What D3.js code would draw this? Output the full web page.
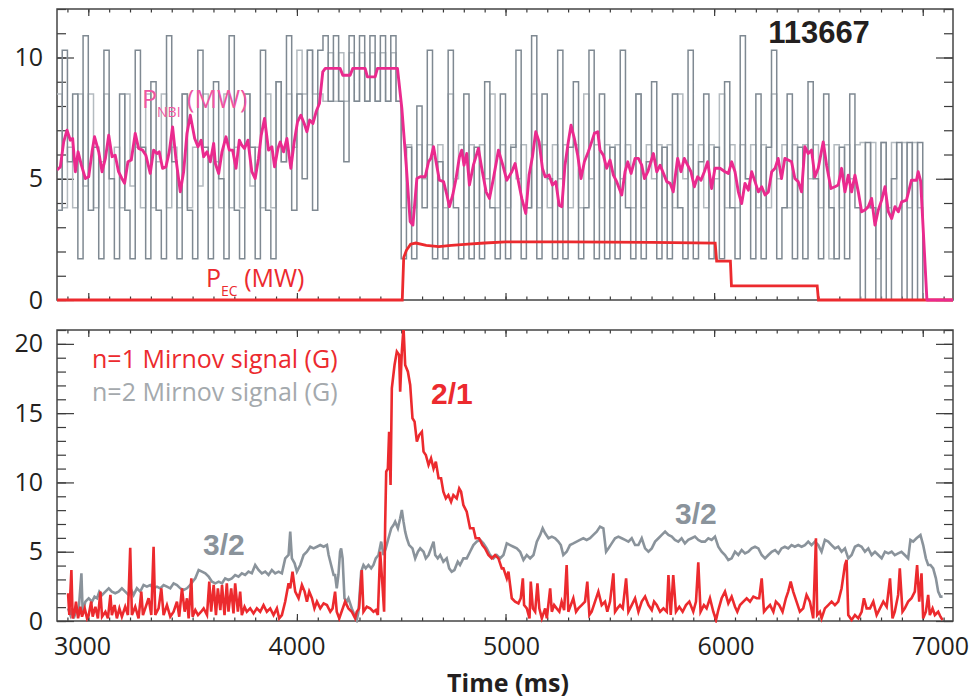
<!DOCTYPE html>
<meta charset="utf-8">
<script src="https://d3js.org/d3.v7.min.js"></script>
<style>
  body { margin: 0; background: #fff; }
  svg text { font-family: 'Open Sans', sans-serif; }
</style>
<body>
<div id="my_dataviz"></div>
<script>

// ---- data ----

// NBI beam traces, step samples every 25 ms from 2850 ms
var beamStart = 2850, beamStep = 25;
var beamDark = [
  3.7, 10.3, 5.7, 8.5, 1.7, 10.9, 3.7, 6.3, 1.7, 10.3,
  5.0, 1.7, 8.5, 3.7, 1.7, 10.3, 6.3, 1.7, 9.0, 3.7,
  1.7, 10.9, 5.7, 1.7, 8.5, 3.7, 1.7, 10.3, 6.3, 1.7,
  9.0, 5.0, 1.7, 10.9, 3.7, 1.7, 8.5, 6.3, 1.7, 10.3,
  3.7, 1.7, 9.0, 5.7, 10.9, 3.7, 8.5, 5.0, 10.3, 3.7,
  10.3, 10.9, 8.2, 10.9, 8.2, 5.7, 10.9, 8.2, 10.9, 8.2, 10.9, 8.2, 10.9, 8.2, 10.9, 8.2,
  1.7, 6.3, 1.7, 8.0, 3.8, 10.3, 1.7, 5.7, 1.7, 10.3,
  3.8, 1.7, 8.5, 1.7, 6.3, 1.7, 9.0, 3.8, 1.7, 8.5,
  1.7, 6.3, 10.3, 1.7, 3.8, 10.9, 1.7, 8.5, 5.0, 1.7,
  10.3, 1.7, 6.3, 9.0, 1.7, 3.8, 10.3, 1.7, 8.5, 1.7,
  6.3, 1.7, 10.3, 3.8, 1.7, 8.5, 1.7, 5.7, 9.0, 1.7,
  6.3, 1.7, 8.5, 3.8, 1.7, 10.3, 1.7, 5.7, 8.5, 1.7,
  6.3, 1.7, 9.0, 3.8, 1.7, 10.9, 5.0, 1.7, 8.5, 1.7,
  6.3, 10.3, 1.7, 3.8, 8.5, 1.7, 6.3, 1.7, 9.0, 5.0,
  1.7, 8.5, 3.8, 1.7, 6.3, 1.7, 8.5, 3.8,
  0, 6.5, 3.8, 0, 6.5, 0, 5.0, 6.5, 0, 6.5, 0, 6.5,
  0, 0
];
var beamLight = [
  8.5, 3.8, 6.3, 3.8, 8.5, 4.7, 8.5, 3.8, 5.7, 8.5,
  3.8, 6.3, 3.8, 8.5, 4.7, 6.3, 3.8, 8.5, 3.8, 5.7,
  8.5, 3.8, 6.3, 3.8, 8.5, 3.8, 6.3, 4.7, 8.5, 3.8,
  5.7, 3.8, 8.5, 3.8, 6.3, 3.8, 8.5, 4.7, 6.3, 3.8,
  8.5, 3.8, 9.0, 5.7, 8.5, 6.3, 10.3, 8.5, 10.3, 8.5,
  8.5, 8.2, 10.2, 8.2, 10.2, 8.2, 10.2, 8.2, 10.2, 8.2, 10.2, 8.2, 10.2, 8.2, 10.2, 8.2,
  3.8, 6.4, 3.8, 6.4, 5.0, 6.4, 3.8, 6.4, 3.8, 8.5,
  5.0, 6.4, 3.8, 6.4, 3.8, 6.4, 5.0, 8.5, 3.8, 6.4,
  3.8, 6.4, 5.0, 6.4, 3.8, 8.5, 3.8, 6.4, 3.8, 6.4,
  5.0, 6.4, 3.8, 6.4, 3.8, 8.5, 5.0, 6.4, 3.8, 6.4,
  3.8, 6.4, 5.0, 6.4, 3.8, 8.5, 3.8, 6.4, 5.0, 6.4,
  3.8, 6.4, 3.8, 8.5, 5.0, 6.4, 3.8, 6.4, 3.8, 6.4,
  5.0, 8.5, 3.8, 6.4, 3.8, 6.4, 5.0, 6.4, 3.8, 6.4,
  3.8, 8.5, 5.0, 6.4, 3.8, 6.4, 3.8, 6.4, 5.0, 6.4,
  3.8, 6.4, 1.7, 6.4, 3.8, 6.4, 5.0, 6.4,
  6.5, 3.8, 6.5, 1.7, 6.5, 3.8, 6.5, 3.8, 6.5, 3.8, 6.5, 3.8,
  0, 0
];

// total NBI power (MW), [time ms, value]
var pNbi = [
  [2850,5.36],[2866,5.49],[2882,6.52],[2898,7.0],[2914,6.59],[2925,6.66],[2938,5.29],[2951,6.11],[2967,5.56],[2986,5.01],
  [3002,5.08],[3018,6.11],[3030,6.73],[3050,6.11],[3066,5.29],[3082,5.84],[3098,6.8],[3114,5.91],[3129,5.97],[3145,5.29],
  [3161,5.01],[3174,4.81],[3190,5.70],[3206,5.77],[3225,6.87],[3241,6.25],[3260,6.18],[3276,5.97],[3297,5.22],[3313,6.18],
  [3329,6.04],[3340,6.11],[3356,5.43],[3372,5.49],[3388,6.11],[3404,7.14],[3420,5.84],[3441,4.46],[3457,5.29],[3473,6.87],
  [3489,7.62],[3510,6.66],[3526,6.32],[3541,6.59],[3553,5.91],[3569,6.11],[3585,5.70],[3601,6.46],[3609,5.63],[3625,5.22],
  [3641,6.11],[3660,6.73],[3676,6.18],[3692,6.18],[3708,5.43],[3724,6.59],[3736,6.38],[3749,6.25],[3765,6.59],[3784,5.29],
  [3800,5.01],[3816,5.84],[3829,6.80],[3845,7.49],[3864,6.18],[3880,6.32],[3893,5.49],[3909,6.25],[3920,6.52],[3936,6.11],
  [3952,6.66],[3971,5.43],[3987,6.52],[4003,7.35],[4019,7.62],[4035,7.28],[4048,6.94],[4061,7.42],[4077,7.28],[4092,7.76],
  [4108,8.10],[4124,9.41],[4136,9.55],[4207,9.55],[4220,9.27],[4255,9.27],[4268,9.55],[4327,9.55],[4338,9.2],[4375,9.2],
  [4386,9.55],[4482,9.55],[4503,7.9],[4524,5.56],[4543,3.23],[4556,3.09],[4575,5.01],[4591,5.08],[4615,5.08],[4631,5.70],
  [4642,5.84],[4655,6.32],[4667,5.70],[4683,4.94],[4703,4.88],[4719,4.33],[4731,3.85],[4747,4.33],[4763,5.01],[4779,5.91],
  [4790,6.18],[4801,5.56],[4814,6.04],[4827,4.74],[4846,5.56],[4870,6.25],[4886,5.43],[4907,4.46],[4923,4.19],[4942,5.01],
  [4966,6.18],[4987,5.56],[5006,4.94],[5030,5.29],[5046,5.63],[5062,4.88],[5078,4.19],[5097,3.57],[5113,5.15],[5129,5.91],
  [5145,6.94],[5161,6.52],[5177,5.43],[5190,5.08],[5209,5.15],[5225,4.74],[5241,4.88],[5257,3.91],[5270,3.85],[5285,5.56],
  [5301,6.52],[5314,7.21],[5330,6.66],[5346,5.97],[5362,5.01],[5378,5.70],[5397,6.11],[5413,6.52],[5426,6.87],[5442,6.94],
  [5453,6.18],[5469,5.97],[5485,5.43],[5501,5.77],[5517,5.15],[5533,4.88],[5557,4.33],[5573,5.29],[5586,5.70],[5602,5.22],
  [5621,5.84],[5637,5.84],[5653,5.56],[5666,5.01],[5682,5.29],[5709,6.04],[5725,5.29],[5741,5.56],[5757,5.22],[5773,4.88],
  [5789,4.81],[5804,4.46],[5825,5.84],[5841,5.29],[5857,5.84],[5873,5.56],[5889,5.29],[5905,4.67],[5921,5.08],[5937,4.94],
  [5953,5.29],[5969,5.70],[5988,4.60],[6004,5.43],[6028,5.43],[6052,5.29],[6068,5.22],[6084,5.70],[6100,5.29],[6116,4.46],
  [6132,3.98],[6148,4.81],[6164,4.53],[6180,5.29],[6196,4.88],[6212,4.46],[6228,4.67],[6244,4.33],[6260,4.46],[6276,5.29],
  [6292,5.43],[6307,5.84],[6323,5.01],[6339,5.84],[6355,5.77],[6371,5.70],[6387,5.01],[6403,4.88],[6419,4.46],[6435,6.32],
  [6451,6.04],[6467,6.18],[6483,5.08],[6499,5.43],[6523,6.52],[6539,5.56],[6560,4.60],[6579,4.67],[6595,4.74],[6611,5.43],
  [6627,4.46],[6643,5.15],[6659,4.46],[6675,5.15],[6691,4.46],[6707,3.64],[6723,3.71],[6739,3.85],[6755,4.19],[6771,3.09],
  [6787,3.71],[6803,4.12],[6819,4.67],[6835,3.64],[6851,3.36],[6867,3.85],[6883,3.64],[6899,4.05],[6922,4.12],[6946,4.94],
  [6970,4.94],[6978,5.29],[6990,4.9],[7020,0],[7145,0]
];

// ECH power (MW)
var pEc = [
  [2850,0],[4505,0],[4512,1.75],[4525,2.05],[4545,2.3],[4570,2.35],[4620,2.25],[4680,2.2],[4740,2.25],[4820,2.3],
  [4900,2.35],[5000,2.4],[5300,2.4],[5700,2.38],[6005,2.35],[6012,1.6],[6078,1.6],[6083,0.58],[6494,0.58],[6500,0],[7145,0]
];

// n=1 Mirnov amplitude (G)
var mirnovN1 = [
  [2903,2.0],[2909,0.43],[2919,3.68],[2925,0.19],[2935,0.67],[2941,1.4],[2951,0.19],[2962,1.03],[2970,0.31],[2983,0.91],
  [2994,0.19],[3002,0.43],[3014,1.4],[3021,0.31],[3034,1.03],[3046,0.19],[3058,2.12],[3066,0.31],[3082,0.67],[3094,0.19],
  [3106,1.88],[3113,0.43],[3126,1.15],[3137,0.19],[3149,0.91],[3161,0.31],[3177,1.03],[3190,0.43],[3201,5.29],[3209,0.43],
  [3225,1.03],[3241,0.19],[3254,2.12],[3262,0.43],[3273,0.91],[3289,1.64],[3302,0.43],[3313,5.36],[3321,0.43],[3337,0.91],
  [3350,2.36],[3361,0.43],[3377,1.15],[3393,0.31],[3409,0.67],[3425,1.4],[3436,0.31],[3449,2.36],[3462,0.67],[3473,1.64],
  [3481,0.19],[3494,3.08],[3500,0.31],[3513,0.79],[3526,0.43],[3541,0.67],[3553,0.91],[3569,0.43],[3580,2.84],[3589,0.67],
  [3601,2.6],[3612,0.43],[3621,2.36],[3633,0.79],[3641,2.6],[3653,0.43],[3664,2.72],[3672,0.67],[3685,2.36],[3696,0.55],
  [3704,2.72],[3717,0.67],[3728,2.12],[3736,0.43],[3749,1.03],[3760,0.67],[3776,0.91],[3792,0.55],[3808,0.91],[3824,0.67],
  [3840,1.15],[3856,0.67],[3872,0.91],[3888,0.43],[3904,0.91],[3915,0.19],[3928,0.43],[3944,1.4],[3960,2.72],[3968,2.36],
  [3979,3.56],[3992,2.12],[4008,1.64],[4024,2.6],[4037,2.12],[4048,1.4],[4059,2.12],[4072,1.64],[4084,0.91],[4096,1.4],
  [4112,0.91],[4128,1.27],[4144,1.15],[4160,0.67],[4171,0.91],[4183,2.12],[4191,0.67],[4203,0.19],[4231,1.4],[4247,0.91],
  [4263,0.67],[4279,0.19],[4287,0.67],[4298,0.91],[4311,3.68],[4319,0.67],[4335,1.03],[4351,0.91],[4367,0.67],[4378,0.79],
  [4388,0.43],[4399,5.0],[4410,2.6],[4418,0.67],[4423,6.93],[4428,10.78],[4436,11.0],[4442,13.66],[4449,9.81],[4455,16.79],
  [4468,18.47],[4479,19.44],[4490,19.2],[4495,16.55],[4503,19.44],[4511,21.2],[4519,18.47],[4532,17.99],[4543,17.03],[4554,14.63],
  [4564,14.39],[4575,12.94],[4586,13.42],[4599,13.66],[4607,12.22],[4618,11.98],[4631,11.26],[4643,11.74],[4655,11.0],[4666,11.5],
  [4679,10.3],[4691,10.3],[4702,9.33],[4714,8.85],[4726,9.09],[4739,8.61],[4750,9.09],[4766,8.85],[4778,9.57],[4787,9.33],
  [4798,8.37],[4814,7.89],[4830,6.69],[4846,6.69],[4857,5.97],[4873,5.97],[4889,5.48],[4902,5.24],[4918,4.76],[4934,4.52],
  [4950,4.76],[4966,4.52],[4982,3.8],[4990,3.8],[5006,3.08],[5014,3.56],[5022,2.6],[5030,1.64],[5046,1.4],[5062,1.27],
  [5073,1.64],[5083,3.08],[5089,1.15],[5102,0.91],[5115,0.19],[5121,2.84],[5131,0.91],[5142,0.67],[5153,2.72],[5162,0.91],
  [5174,0.19],[5190,0.91],[5198,0.19],[5214,2.36],[5222,0.67],[5233,1.15],[5245,0.91],[5258,0.67],[5269,1.4],[5281,0.79],
  [5293,4.04],[5301,0.67],[5313,1.15],[5325,1.64],[5338,0.67],[5349,0.91],[5365,1.15],[5381,1.4],[5392,2.84],[5402,0.43],
  [5413,0.67],[5429,1.4],[5445,2.12],[5461,1.15],[5477,1.4],[5488,0.67],[5501,1.4],[5517,3.44],[5525,0.67],[5536,0.91],
  [5549,1.15],[5562,0.91],[5578,3.08],[5589,0.67],[5605,1.15],[5621,1.64],[5637,0.67],[5653,1.4],[5669,1.76],[5685,1.15],
  [5701,0.79],[5712,1.4],[5725,1.15],[5741,0.67],[5757,0.91],[5773,0.67],[5781,3.32],[5792,0.43],[5804,3.32],[5817,0.67],
  [5833,1.03],[5849,0.67],[5865,1.15],[5881,1.4],[5900,0.67],[5913,1.4],[5924,4.23],[5935,0.67],[5951,1.15],[5964,0.91],
  [5980,1.64],[5996,0.67],[6009,0.07],[6020,0.79],[6036,1.64],[6052,2.12],[6068,1.27],[6084,1.76],[6100,1.03],[6111,0.67],
  [6124,1.15],[6140,1.4],[6156,1.64],[6172,1.4],[6188,1.76],[6204,1.64],[6216,1.64],[6228,3.08],[6239,0.67],[6252,0.91],
  [6268,1.15],[6284,0.67],[6296,1.4],[6312,1.15],[6328,0.67],[6344,1.64],[6355,2.12],[6367,2.84],[6379,2.12],[6395,1.4],
  [6411,0.67],[6427,0.91],[6443,1.88],[6459,1.4],[6475,0.19],[6488,5.97],[6494,0.43],[6507,0.67],[6515,0.19],[6531,0.91],
  [6547,1.15],[6563,1.4],[6579,1.15],[6595,1.4],[6611,2.36],[6627,4.04],[6635,4.4],[6643,0.43],[6659,0.07],[6675,0.43],
  [6691,0.19],[6707,0.67],[6718,1.64],[6731,0.91],[6747,0.91],[6763,1.4],[6779,0.43],[6795,0.91],[6811,1.4],[6827,1.03],
  [6843,3.08],[6855,0.19],[6866,0.67],[6882,1.88],[6890,3.8],[6903,0.67],[6914,0.91],[6930,1.4],[6946,1.64],[6962,2.12],
  [6973,4.04],[6983,1.4],[6994,3.44],[7002,0.19],[7015,0.67],[7026,1.88],[7034,0.43],[7047,0.91],[7058,0.43],[7074,0.67],
  [7085,0.31],[7095,0.07]
];

// n=2 Mirnov amplitude (G)
var mirnovN2 = [
  [2903,0.91],[2914,0.43],[2922,0.91],[2930,0.19],[2941,0.67],[2954,0.79],[2967,3.44],[2973,0.67],[2986,1.4],[3002,1.64],
  [3018,1.4],[3030,1.76],[3042,1.64],[3053,2.12],[3066,1.88],[3082,2.12],[3098,2.36],[3113,2.12],[3129,2.0],[3145,2.12],
  [3161,2.36],[3177,2.12],[3193,1.88],[3206,2.24],[3217,1.88],[3233,2.36],[3249,2.12],[3265,2.6],[3281,2.48],[3297,2.6],
  [3313,2.36],[3329,2.48],[3345,2.36],[3361,2.6],[3377,2.48],[3393,2.36],[3409,2.72],[3425,2.6],[3441,2.36],[3457,2.24],
  [3473,2.36],[3489,2.6],[3500,2.84],[3513,3.08],[3529,3.68],[3545,3.56],[3561,3.44],[3577,3.2],[3593,2.84],[3609,2.72],
  [3625,2.84],[3641,2.72],[3656,3.08],[3672,2.96],[3688,3.08],[3704,3.32],[3720,3.2],[3736,3.44],[3752,3.32],[3768,3.56],
  [3784,3.44],[3800,4.04],[3816,3.68],[3832,3.44],[3848,3.56],[3864,3.32],[3880,3.68],[3896,3.44],[3912,3.56],[3928,3.44],
  [3944,4.52],[3960,4.76],[3968,6.45],[3976,4.52],[3989,4.16],[4000,3.56],[4016,4.04],[4032,4.76],[4048,5.0],[4064,5.36],
  [4080,5.24],[4096,5.36],[4112,5.48],[4128,5.36],[4144,5.48],[4152,4.76],[4164,4.04],[4176,3.32],[4183,3.32],[4191,2.36],
  [4199,3.32],[4207,5.0],[4212,5.24],[4219,4.52],[4228,1.64],[4239,1.4],[4247,1.64],[4263,0.91],[4276,0.43],[4287,0.07],
  [4295,0.67],[4308,3.56],[4319,4.04],[4330,3.8],[4343,4.04],[4356,3.8],[4367,4.04],[4378,4.52],[4391,4.76],[4404,5.73],
  [4415,4.76],[4426,5.24],[4439,5.97],[4452,6.69],[4463,6.93],[4471,7.17],[4484,6.69],[4495,7.41],[4503,8.01],[4511,7.17],
  [4519,6.45],[4527,5.97],[4538,5.48],[4554,5.24],[4567,4.52],[4580,5.0],[4591,5.24],[4607,5.0],[4618,4.52],[4631,4.76],
  [4643,5.24],[4655,5.73],[4663,4.76],[4675,4.52],[4687,4.76],[4702,4.28],[4718,4.52],[4730,3.8],[4742,3.56],[4755,3.68],
  [4771,4.28],[4782,4.04],[4798,4.52],[4814,4.52],[4830,5.0],[4846,5.48],[4862,5.73],[4878,5.85],[4894,5.6],[4910,5.24],
  [4926,4.76],[4942,4.52],[4958,4.76],[4974,4.52],[4990,4.76],[5006,5.6],[5022,5.48],[5038,5.36],[5054,5.24],[5070,5.0],
  [5086,4.4],[5102,4.76],[5118,4.52],[5134,4.76],[5150,5.73],[5166,6.21],[5178,6.69],[5190,6.33],[5206,5.97],[5222,6.09],
  [5238,5.97],[5253,5.73],[5265,5.48],[5277,4.76],[5293,5.0],[5309,5.48],[5325,5.6],[5341,5.73],[5357,5.85],[5373,5.97],
  [5389,5.85],[5405,5.97],[5421,6.21],[5437,6.45],[5453,6.81],[5469,6.69],[5482,5.0],[5493,5.24],[5509,5.6],[5525,5.97],
  [5541,6.09],[5557,5.97],[5573,5.85],[5589,5.73],[5605,5.97],[5621,5.48],[5637,5.48],[5653,5.97],[5669,5.24],[5685,5.0],
  [5701,5.24],[5717,5.73],[5733,5.97],[5749,6.21],[5765,6.45],[5781,6.21],[5797,6.09],[5812,5.85],[5828,5.73],[5844,5.97],
  [5860,5.6],[5876,5.85],[5892,5.97],[5908,6.09],[5924,5.85],[5940,5.73],[5956,5.73],[5972,5.97],[5988,5.85],[6004,6.09],
  [6020,5.36],[6036,5.0],[6052,4.76],[6068,4.4],[6084,4.52],[6100,5.0],[6116,4.76],[6132,5.12],[6148,4.88],[6164,5.0],
  [6180,5.24],[6196,5.36],[6212,5.24],[6228,4.76],[6244,4.52],[6260,4.76],[6276,5.0],[6292,5.12],[6308,4.88],[6323,5.24],
  [6339,5.36],[6355,5.24],[6371,5.48],[6387,5.36],[6403,5.48],[6419,5.36],[6435,5.48],[6451,5.73],[6467,5.48],[6483,5.73],
  [6499,5.48],[6515,5.0],[6531,5.85],[6547,5.73],[6563,5.48],[6579,5.24],[6595,5.36],[6611,5.0],[6627,5.24],[6643,4.52],
  [6659,4.76],[6675,5.36],[6691,5.48],[6707,5.36],[6723,5.0],[6739,5.24],[6755,4.76],[6771,5.0],[6787,4.76],[6803,4.52],
  [6819,5.0],[6835,4.88],[6851,5.0],[6866,4.76],[6882,4.88],[6898,5.0],[6914,4.76],[6930,4.52],[6941,5.85],[6954,5.73],
  [6970,5.97],[6989,6.21],[7002,5.48],[7015,4.52],[7026,4.04],[7037,4.04],[7050,3.8],[7063,3.08],[7074,2.12],[7085,1.76],
  [7095,1.76]
];

var xMajor = [3000, 4000, 5000, 6000, 7000];

// ---- layout ----
var width = 979, height = 698;
var left = 57, right = 953;

var svg = d3.select("#my_dataviz")
  .append("svg")
    .attr("width", width)
    .attr("height", height);

var x = d3.scaleLinear().domain([2850, 7145]).range([left, right]);
// the printed tick numbers sit on a slightly wider spacing than the ticks
var xLab = d3.scaleLinear().domain([3000, 7000]).range([82, 940]);
var yTop = d3.scaleLinear().domain([0, 12]).range([300, 9]);
var yBot = d3.scaleLinear().domain([0, 21]).range([621, 330]);

// clip a little below each panel so traces sitting on zero stay visible
var defs = svg.append("defs");
defs.append("clipPath").attr("id", "clipTop").append("rect")
  .attr("x", left).attr("y", 9).attr("width", right - left).attr("height", 293);
defs.append("clipPath").attr("id", "clipBot").append("rect")
  .attr("x", left).attr("y", 330).attr("width", right - left).attr("height", 293);

function styleAxis(g) {
  g.select(".domain").remove();
  g.selectAll(".tick line").attr("stroke", "#3a3a3a").attr("stroke-width", 1.2);
}

// box + inward ticks on all four sides
function frame(y, yMax, yMajor) {
  var top = y.range()[1], bottom = y.range()[0];
  var xMinor = d3.range(2900, 7101, 100);
  var yMinor = d3.range(0, yMax + 1, 1);

  svg.append("g").attr("transform", "translate(0," + bottom + ")")
    .call(d3.axisBottom(x).tickValues(xMinor).tickSize(-3.5).tickFormat("")).call(styleAxis);
  svg.append("g").attr("transform", "translate(0," + bottom + ")")
    .call(d3.axisBottom(x).tickValues(xMajor).tickSize(-7).tickFormat("")).call(styleAxis);
  svg.append("g").attr("transform", "translate(0," + top + ")")
    .call(d3.axisTop(x).tickValues(xMinor).tickSize(-3.5).tickFormat("")).call(styleAxis);
  svg.append("g").attr("transform", "translate(0," + top + ")")
    .call(d3.axisTop(x).tickValues(xMajor).tickSize(-7).tickFormat("")).call(styleAxis);

  svg.append("g").attr("transform", "translate(" + left + ",0)")
    .call(d3.axisLeft(y).tickValues(yMinor).tickSize(-9).tickFormat("")).call(styleAxis);
  svg.append("g").attr("transform", "translate(" + left + ",0)")
    .call(d3.axisLeft(y).tickValues(yMajor).tickSize(-17).tickFormat("")).call(styleAxis);
  svg.append("g").attr("transform", "translate(" + right + ",0)")
    .call(d3.axisRight(y).tickValues(yMinor).tickSize(-9).tickFormat("")).call(styleAxis);
  svg.append("g").attr("transform", "translate(" + right + ",0)")
    .call(d3.axisRight(y).tickValues(yMajor).tickSize(-17).tickFormat("")).call(styleAxis);

  // y tick numbers
  var lab = svg.append("g").attr("transform", "translate(" + left + ",0)")
    .call(d3.axisLeft(y).tickValues(yMajor).tickSize(0).tickPadding(14));
  lab.select(".domain").remove();
  lab.attr("font-size", 25).attr("font-family", "'Open Sans', sans-serif");
  lab.selectAll("text").attr("fill", "#231f20");

  svg.append("rect")
    .attr("x", left).attr("y", top)
    .attr("width", right - left).attr("height", bottom - top)
    .attr("fill", "none").attr("stroke", "#444").attr("stroke-width", 1.5);
}

frame(yTop, 12, [0, 5, 10]);
frame(yBot, 21, [0, 5, 10, 15, 20]);

// ---- top panel traces ----
var beamLine = d3.line()
  .x(function(d, i) { return x(beamStart + i * beamStep); })
  .y(function(d) { return yTop(d); })
  .curve(d3.curveStepAfter);

var lineTop = d3.line()
  .x(function(d) { return x(d[0]); })
  .y(function(d) { return yTop(d[1]); });

var gTop = svg.append("g").attr("clip-path", "url(#clipTop)");
gTop.append("path").datum(beamLight)
  .attr("d", beamLine).attr("fill", "none")
  .attr("stroke", "#b4bbc0").attr("stroke-width", 1.5);
gTop.append("path").datum(beamDark)
  .attr("d", beamLine).attr("fill", "none")
  .attr("stroke", "#7f8992").attr("stroke-width", 1.5);
gTop.append("path").datum(pEc)
  .attr("d", lineTop).attr("fill", "none")
  .attr("stroke", "#ec2a2e").attr("stroke-width", 2.8);
gTop.append("path").datum(pNbi)
  .attr("d", lineTop).attr("fill", "none")
  .attr("stroke", "#ea2a8e").attr("stroke-width", 2.9)
  .attr("stroke-linejoin", "round");

// ---- bottom panel traces ----
var lineBot = d3.line()
  .x(function(d) { return x(d[0]); })
  .y(function(d) { return yBot(d[1]); });

var gBot = svg.append("g").attr("clip-path", "url(#clipBot)");
gBot.append("path").datum(mirnovN2)
  .attr("d", lineBot).attr("fill", "none")
  .attr("stroke", "#8a939b").attr("stroke-width", 2.6);
gBot.append("path").datum(mirnovN1)
  .attr("d", lineBot).attr("fill", "none")
  .attr("stroke", "#ec2a2e").attr("stroke-width", 2.6);

// x tick numbers under the bottom panel
var xl = svg.append("g").attr("transform", "translate(0,621)")
  .call(d3.axisBottom(xLab).tickValues(xMajor).tickSize(0).tickPadding(16).tickFormat(d3.format("d")));
xl.select(".domain").remove();
xl.attr("font-size", 25).attr("font-family", "'Open Sans', sans-serif");
xl.selectAll("text").attr("fill", "#231f20");

// ---- texts ----
svg.append("text")
  .attr("x", 819).attr("y", 43)
  .attr("text-anchor", "middle")
  .style("font-family", "'Liberation Sans', Arial, sans-serif")
  .style("font-weight", "bold").style("font-size", "31px")
  .attr("fill", "#231f20")
  .text("113667");

var tNbi = svg.append("text").attr("x", 142).attr("y", 108)
  .attr("fill", "#ef55a2").style("font-size", "25px");
tNbi.append("tspan").text("P");
tNbi.append("tspan").attr("dy", 9).style("font-size", "14px").text("NBI");
tNbi.append("tspan").attr("dy", -9).text(" (MW)");

var tEc = svg.append("text").attr("x", 206).attr("y", 287)
  .attr("fill", "#ec2a2e").style("font-size", "25px");
tEc.append("tspan").text("P");
tEc.append("tspan").attr("dy", 9).style("font-size", "14px").text("EC");
tEc.append("tspan").attr("dy", -9).text(" (MW)");

svg.append("text").attr("x", 92).attr("y", 368)
  .attr("fill", "#ec2a2e").style("font-size", "25px")
  .text("n=1 Mirnov signal (G)");
svg.append("text").attr("x", 92).attr("y", 401)
  .attr("fill", "#a4a9ad").style("font-size", "25px")
  .text("n=2 Mirnov signal (G)");

function modeLabel(tx, ty, txt, col) {
  svg.append("text").attr("x", tx).attr("y", ty)
    .style("font-family", "'Liberation Sans', Arial, sans-serif")
    .style("font-weight", "bold").style("font-size", "30px")
    .attr("fill", col).text(txt);
}
modeLabel(203, 555, "3/2", "#8a939b");
modeLabel(431, 404, "2/1", "#ec2a2e");
modeLabel(675, 524, "3/2", "#8a939b");

svg.append("text")
  .attr("x", 508).attr("y", 692)
  .attr("text-anchor", "middle")
  .style("font-weight", "bold").style("font-size", "25px")
  .attr("fill", "#231f20")
  .text("Time (ms)");

</script>
</body>
